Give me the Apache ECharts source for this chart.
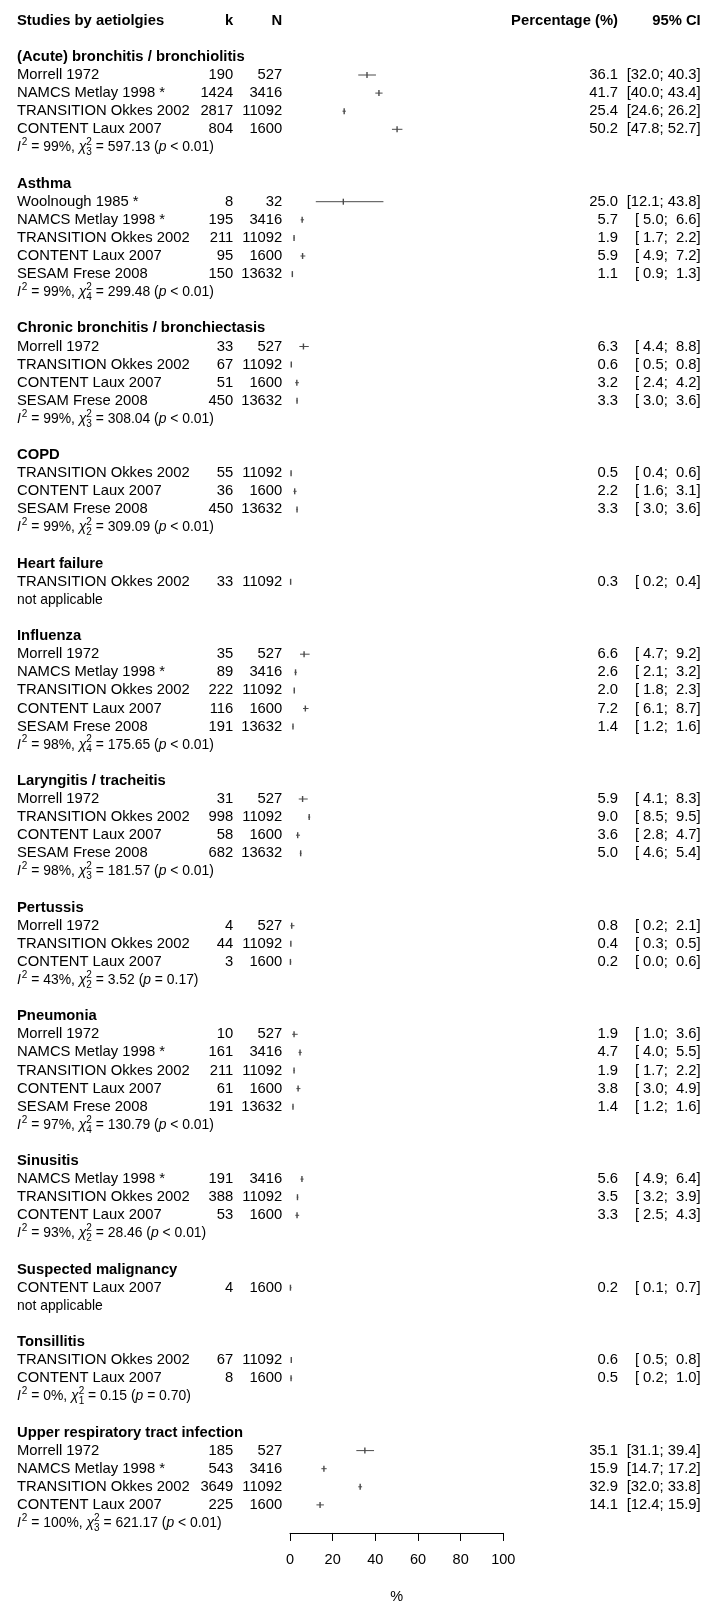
<!DOCTYPE html>
<html>
<head>
<meta charset="utf-8">
<script src="https://cdn.jsdelivr.net/npm/echarts@6/dist/echarts.min.js"></script>
<style>
  html, body { margin: 0; padding: 0; background: #fff; }
  #chart { width: 704px; height: 1601px; }
</style>
</head>
<body>
<div id="chart"></div>
<script>
// ---- Subgroups (aetiologies) and heterogeneity statistics ----
const groupNames = [
  '(Acute) bronchitis / bronchiolitis', 'Asthma', 'Chronic bronchitis / bronchiectasis', 'COPD',
  'Heart failure', 'Influenza', 'Laryngitis / tracheitis', 'Pertussis', 'Pneumonia', 'Sinusitis',
  'Suspected malignancy', 'Tonsillitis', 'Upper respiratory tract infection'
];
const hetI2 = ['99%', '99%', '99%', '99%', null, '98%', '98%', '43%', '97%', '93%', null, '0%', '100%'];
const hetDf = [3, 4, 3, 2, null, 4, 3, 2, 4, 2, null, 1, 3];
const hetQ = ['597.13', '299.48', '308.04', '309.09', null, '175.65', '181.57', '3.52', '130.79', '28.46', null, '0.15', '621.17'];
const hetP = ['< 0.01', '< 0.01', '< 0.01', '< 0.01', null, '< 0.01', '< 0.01', '= 0.17', '< 0.01', '< 0.01', null, '= 0.70', '< 0.01'];

// ---- Individual studies ----
const studyGroup = [0,0,0,0, 1,1,1,1,1, 2,2,2,2, 3,3,3, 4, 5,5,5,5,5, 6,6,6,6, 7,7,7, 8,8,8,8,8, 9,9,9, 10, 11,11, 12,12,12,12];
const studyNames = [
  'Morrell 1972', 'NAMCS Metlay 1998 *', 'TRANSITION Okkes 2002', 'CONTENT Laux 2007',
  'Woolnough 1985 *', 'NAMCS Metlay 1998 *', 'TRANSITION Okkes 2002', 'CONTENT Laux 2007', 'SESAM Frese 2008',
  'Morrell 1972', 'TRANSITION Okkes 2002', 'CONTENT Laux 2007', 'SESAM Frese 2008',
  'TRANSITION Okkes 2002', 'CONTENT Laux 2007', 'SESAM Frese 2008',
  'TRANSITION Okkes 2002',
  'Morrell 1972', 'NAMCS Metlay 1998 *', 'TRANSITION Okkes 2002', 'CONTENT Laux 2007', 'SESAM Frese 2008',
  'Morrell 1972', 'TRANSITION Okkes 2002', 'CONTENT Laux 2007', 'SESAM Frese 2008',
  'Morrell 1972', 'TRANSITION Okkes 2002', 'CONTENT Laux 2007',
  'Morrell 1972', 'NAMCS Metlay 1998 *', 'TRANSITION Okkes 2002', 'CONTENT Laux 2007', 'SESAM Frese 2008',
  'NAMCS Metlay 1998 *', 'TRANSITION Okkes 2002', 'CONTENT Laux 2007',
  'CONTENT Laux 2007',
  'TRANSITION Okkes 2002', 'CONTENT Laux 2007',
  'Morrell 1972', 'NAMCS Metlay 1998 *', 'TRANSITION Okkes 2002', 'CONTENT Laux 2007'
];
const eventsK = [
  190, 1424, 2817, 804,
  8, 195, 211, 95, 150,
  33, 67, 51, 450,
  55, 36, 450,
  33,
  35, 89, 222, 116, 191,
  31, 998, 58, 682,
  4, 44, 3,
  10, 161, 211, 61, 191,
  191, 388, 53,
  4,
  67, 8,
  185, 543, 3649, 225
];
const totalN = [
  527, 3416, 11092, 1600,
  32, 3416, 11092, 1600, 13632,
  527, 11092, 1600, 13632,
  11092, 1600, 13632,
  11092,
  527, 3416, 11092, 1600, 13632,
  527, 11092, 1600, 13632,
  527, 11092, 1600,
  527, 3416, 11092, 1600, 13632,
  3416, 11092, 1600,
  1600,
  11092, 1600,
  527, 3416, 11092, 1600
];
const pctEst = [
  36.1, 41.7, 25.4, 50.2,
  25.0, 5.7, 1.9, 5.9, 1.1,
  6.3, 0.6, 3.2, 3.3,
  0.5, 2.2, 3.3,
  0.3,
  6.6, 2.6, 2.0, 7.2, 1.4,
  5.9, 9.0, 3.6, 5.0,
  0.8, 0.4, 0.2,
  1.9, 4.7, 1.9, 3.8, 1.4,
  5.6, 3.5, 3.3,
  0.2,
  0.6, 0.5,
  35.1, 15.9, 32.9, 14.1
];
const pctLow = [
  32.0, 40.0, 24.6, 47.8,
  12.1, 5.0, 1.7, 4.9, 0.9,
  4.4, 0.5, 2.4, 3.0,
  0.4, 1.6, 3.0,
  0.2,
  4.7, 2.1, 1.8, 6.1, 1.2,
  4.1, 8.5, 2.8, 4.6,
  0.2, 0.3, 0.0,
  1.0, 4.0, 1.7, 3.0, 1.2,
  4.9, 3.2, 2.5,
  0.1,
  0.5, 0.2,
  31.1, 14.7, 32.0, 12.4
];
const pctHigh = [
  40.3, 43.4, 26.2, 52.7,
  43.8, 6.6, 2.2, 7.2, 1.3,
  8.8, 0.8, 4.2, 3.6,
  0.6, 3.1, 3.6,
  0.4,
  9.2, 3.2, 2.3, 8.7, 1.6,
  8.3, 9.5, 4.7, 5.4,
  2.1, 0.5, 0.6,
  3.6, 5.5, 2.2, 4.9, 1.6,
  6.4, 3.9, 4.3,
  0.7,
  0.8, 1.0,
  39.4, 17.2, 33.8, 15.9
];

// ---- Column headers ----
const headerLabels = ['Studies by aetiolgies', 'k', 'N', 'Percentage (%)', '95% CI'];

// ---- Layout constants ----
const FONT = "'Liberation Sans', Arial, Helvetica, sans-serif";
const FS = 14.8;
const HET_FS = 13.9;
const SUP = 10;
const TEXT_COLOR = '#000';
const MARK_COLOR = '#4a4a4a';
const COL_LABEL = 17, COL_K = 233.3, COL_N = 282.3, COL_PCT = 618, COL_CI = 700.7;

const measureCtx = document.createElement('canvas').getContext('2d');
function textWidth(t, size, italic, bold) {
  measureCtx.font = (italic ? 'italic ' : 'normal ') + (bold ? 'bold ' : 'normal ') + size + 'px ' + FONT;
  return measureCtx.measureText(t).width;
}
const pad4 = v => { const s = v.toFixed(1); return s.length < 4 ? ' ' + s : s; };

// Build the table rows: header, blank, then per group title / studies / heterogeneity / blank
const textRows = [];   // {row, kind, ...}
const markRows = [];   // [est, row, lo, hi]
textRows.push({ row: 0, kind: 'header' });
let r = 2;
groupNames.forEach((g, gi) => {
  textRows.push({ row: r++, kind: 'title', text: g });
  studyGroup.forEach((sg, i) => {
    if (sg !== gi) return;
    textRows.push({ row: r, kind: 'study', i });
    markRows.push([pctEst[i], r, pctLow[i], pctHigh[i]]);
    r++;
  });
  textRows.push({ row: r++, kind: hetI2[gi] === null ? 'na' : 'het', gi });
  r++;
});

function txt(x, y, text, align, opts) {
  opts = opts || {};
  return {
    type: 'text', x, y,
    style: {
      text, fill: TEXT_COLOR, fontFamily: FONT,
      fontSize: opts.size || FS,
      fontWeight: opts.bold ? 'bold' : 'normal',
      fontStyle: opts.italic ? 'italic' : 'normal',
      align: align || 'left', verticalAlign: 'middle'
    }
  };
}

function hetChildren(gi, y) {
  // I^2 = xx%, chi^2_df = Q (p ...)
  const segs = [
    { t: 'I', italic: true },
    { t: '2', size: SUP, dy: -5 },
    { t: ' = ' + hetI2[gi] + ', ' },
    { t: '\u03C7', italic: true },
    { t: '2', size: SUP, dy: -5, stackWith: String(hetDf[gi]) },
    { t: ' = ' + hetQ[gi] + ' (' },
    { t: 'p', italic: true },
    { t: ' ' + hetP[gi] + ')' }
  ];
  const out = [];
  let x = COL_LABEL;
  segs.forEach(s => {
    const size = s.size || HET_FS;
    out.push(txt(x, y + (s.dy || 0), s.t, 'left', { size, italic: s.italic }));
    let w = textWidth(s.t, size, s.italic, false);
    if (s.stackWith) {
      out.push(txt(x, y + 5, s.stackWith, 'left', { size }));
      w = Math.max(w, textWidth(s.stackWith, size, false, false));
    }
    x += w + (s.t === 'I' ? 1 : 0);
  });
  return out;
}

function renderTextRow(params, api) {
  const item = textRows[params.dataIndex];
  const y = api.coord([0, item.row])[1];
  let children = [];
  if (item.kind === 'header') {
    children = [
      txt(COL_LABEL, y, headerLabels[0], 'left', { bold: true }),
      txt(COL_K, y, headerLabels[1], 'right', { bold: true }),
      txt(COL_N, y, headerLabels[2], 'right', { bold: true }),
      txt(COL_PCT, y, headerLabels[3], 'right', { bold: true }),
      txt(COL_CI, y, headerLabels[4], 'right', { bold: true })
    ];
  } else if (item.kind === 'title') {
    children = [txt(COL_LABEL, y, item.text, 'left', { bold: true })];
  } else if (item.kind === 'study') {
    const i = item.i;
    children = [
      txt(COL_LABEL, y, studyNames[i], 'left'),
      txt(COL_K, y, String(eventsK[i]), 'right'),
      txt(COL_N, y, String(totalN[i]), 'right'),
      txt(COL_PCT, y, pctEst[i].toFixed(1), 'right'),
      txt(COL_CI, y, '[' + pad4(pctLow[i]) + '; ' + pad4(pctHigh[i]) + ']', 'right')
    ];
  } else if (item.kind === 'na') {
    children = [txt(COL_LABEL, y, 'not applicable', 'left', { size: HET_FS })];
  } else {
    children = hetChildren(item.gi, y);
  }
  return { type: 'group', children };
}

function renderMark(params, api) {
  const row = api.value(1);
  const p = api.coord([api.value(0), row]);
  const lo = api.coord([api.value(2), row]);
  const hi = api.coord([api.value(3), row]);
  return {
    type: 'group',
    children: [
      { type: 'line', shape: { x1: lo[0], y1: lo[1], x2: hi[0], y2: hi[1] }, style: { stroke: MARK_COLOR, lineWidth: 1 } },
      { type: 'line', shape: { x1: p[0], y1: p[1] - 3, x2: p[0], y2: p[1] + 3 }, style: { stroke: MARK_COLOR, lineWidth: 1.4 } }
    ]
  };
}

const ROW_H = 18.1;
const LAST_ROW = 83.55;
const chart = echarts.init(document.getElementById('chart'), null, { renderer: 'canvas' });
chart.setOption({
  animation: false,
  backgroundColor: '#fff',
  grid: {
    left: 290, right: 200.7, top: 20.7, height: LAST_ROW * ROW_H,
    containLabel: false, outerBoundsMode: 'none'
  },
  xAxis: {
    type: 'value', min: 0, max: 100, interval: 20,
    name: '%', nameLocation: 'middle', nameGap: 57,
    nameTextStyle: { color: TEXT_COLOR, fontFamily: FONT, fontSize: 14.5 },
    axisLine: { onZero: false, lineStyle: { color: '#000', width: 1 } },
    axisTick: { inside: false, length: 8, lineStyle: { color: '#000', width: 1 } },
    axisLabel: { color: TEXT_COLOR, fontFamily: FONT, fontSize: 14.5, margin: 20 },
    splitLine: { show: false }
  },
  yAxis: { type: 'value', min: 0, max: LAST_ROW, inverse: true, show: false },
  series: [
    {
      type: 'custom', name: 'table', clip: false, silent: true,
      renderItem: renderTextRow,
      encode: { x: 0, y: 1 },
      data: textRows.map(t => [0, t.row])
    },
    {
      type: 'custom', name: 'estimates', clip: false, silent: true,
      renderItem: renderMark,
      encode: { x: [0, 2, 3], y: 1 },
      data: markRows
    }
  ]
});
</script>
</body>
</html>
